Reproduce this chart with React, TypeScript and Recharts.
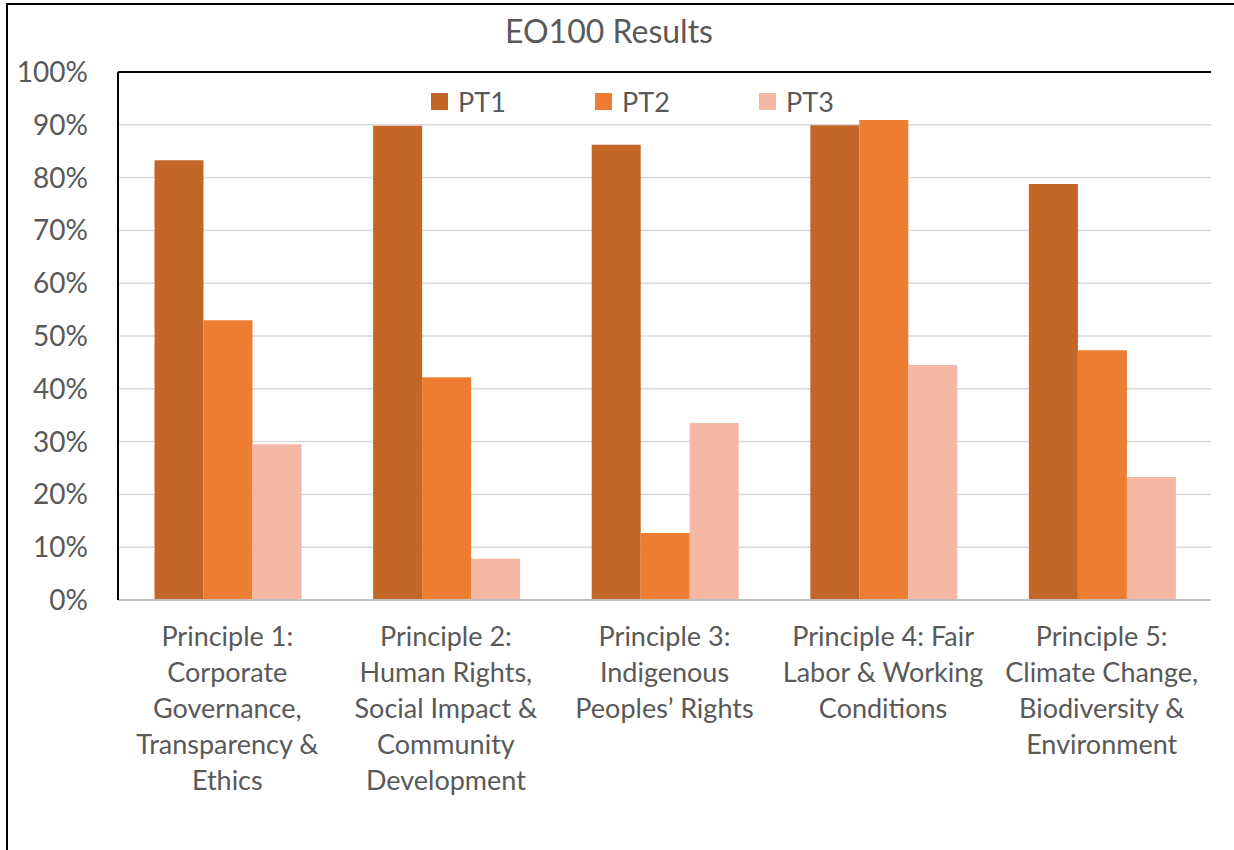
import React from "react";
import {
  BarChart,
  Bar,
  XAxis,
  YAxis,
  CartesianGrid,
  Legend,
  ReferenceLine,
} from "recharts";

const categories = [
  "Principle 1: Corporate Governance, Transparency & Ethics",
  "Principle 2: Human Rights, Social Impact & Community Development",
  "Principle 3: Indigenous Peoples’ Rights",
  "Principle 4: Fair Labor & Working Conditions",
  "Principle 5: Climate Change, Biodiversity & Environment",
];

const categoryLines = [
  ["Principle 1:", "Corporate", "Governance,", "Transparency &", "Ethics"],
  ["Principle 2:", "Human Rights,", "Social Impact &", "Community", "Development"],
  ["Principle 3:", "Indigenous", "Peoples’ Rights"],
  ["Principle 4: Fair", "Labor & Working", "Conditions"],
  ["Principle 5:", "Climate Change,", "Biodiversity &", "Environment"],
];

const pt1 = [0.833, 0.898, 0.862, 0.899, 0.788];
const pt2 = [0.53, 0.422, 0.127, 0.909, 0.473];
const pt3 = [0.295, 0.078, 0.335, 0.445, 0.233];

const yTicks = [0, 0.1, 0.2, 0.3, 0.4, 0.5, 0.6, 0.7, 0.8, 0.9, 1.0];

const seriesNames = ["PT1", "PT2", "PT3"];
const seriesColors = ["#C46628", "#ED7D31", "#F4B8A5"];

const data = categories.map((c, i) => ({
  name: c,
  PT1: pt1[i],
  PT2: pt2[i],
  PT3: pt3[i],
}));

const FONT = "Lato, 'Open Sans', sans-serif";
const TEXT = "#595959";

const CategoryTick = (props: any) => {
  const { x, y, payload } = props;
  const idx = categories.indexOf(payload.value);
  const lines = idx >= 0 ? categoryLines[idx] : [String(payload.value)];
  return (
    <g>
      {lines.map((l, i) => (
        <text
          key={i}
          x={x}
          y={y + 46 + i * 36}
          textAnchor="middle"
          fill={TEXT}
          fontSize={27}
          fontFamily={FONT}
        >
          {l}
        </text>
      ))}
    </g>
  );
};

const LegendContent = () => (
  <div style={{ display: "flex", fontFamily: FONT }}>
    {seriesNames.map((n, i) => (
      <div
        key={n}
        style={{ width: 164, display: "flex", alignItems: "center", height: 28 }}
      >
        <div
          style={{
            width: 17,
            height: 17,
            background: seriesColors[i],
            marginRight: 10,
          }}
        />
        <span style={{ fontSize: 27, color: TEXT }}>{n}</span>
      </div>
    ))}
  </div>
);

export default function App() {
  return (
    <div
      style={{
        position: "absolute",
        left: 0,
        top: 0,
        width: 1234,
        height: 850,
        background: "#fff",
        overflow: "hidden",
      }}
    >
      <div
        style={{
          position: "absolute",
          left: 6,
          top: 3,
          width: 1240,
          height: 860,
          borderLeft: "2px solid #000",
          borderTop: "2px solid #000",
        }}
      />
      <div
        style={{
          position: "absolute",
          left: 0,
          width: 1218,
          top: 11,
          textAlign: "center",
          fontFamily: FONT,
          fontSize: 32,
          color: TEXT,
        }}
      >
        EO100 Results
      </div>
      <div style={{ position: "absolute", left: 0, top: 0 }}>
        <BarChart
          width={1234}
          height={850}
          data={data}
          margin={{ top: 72, right: 23, left: 18, bottom: 10 }}
          barCategoryGap="16.7%"
          barGap={0}
        >
          <CartesianGrid
            vertical={false}
            stroke="#D9D9D9"
            strokeWidth={1.5}
            yAxisId="left"
          />
          <XAxis
            dataKey="name"
            height={240}
            interval={0}
            tickLine={false}
            tickSize={0}
            tickMargin={0}
            axisLine={{ stroke: "#BFBFBF", strokeWidth: 2 }}
            tick={<CategoryTick />}
          />
          <YAxis
            yAxisId="left"
            width={100}
            domain={[0, 1]}
            ticks={yTicks}
            interval={0}
            tickFormatter={(v: number) => `${Math.round(v * 100)}%`}
            tickLine={false}
            tickSize={0}
            tickMargin={30}
            axisLine={{ stroke: "#000", strokeWidth: 2 }}
            tick={{ fill: TEXT, fontSize: 28, fontFamily: FONT }}
          />
          <YAxis
            yAxisId="right"
            orientation="right"
            width={0}
            domain={[0, 1]}
            tick={false}
            tickLine={false}
            axisLine={{ stroke: "#000", strokeWidth: 2 }}
          />
          <ReferenceLine
            yAxisId="left"
            y={1}
            stroke="#000"
            strokeWidth={2}
            ifOverflow="extendDomain"
          />
          <Legend
            layout="horizontal"
            verticalAlign="middle"
            align="center"
            content={<LegendContent />}
            wrapperStyle={{ top: 87, left: 431, width: 500, height: 30 }}
          />
          {seriesNames.map((n, i) => (
            <Bar
              key={n}
              yAxisId="left"
              dataKey={n}
              fill={seriesColors[i]}
              isAnimationActive={false}
            />
          ))}
        </BarChart>
      </div>
    </div>
  );
}
